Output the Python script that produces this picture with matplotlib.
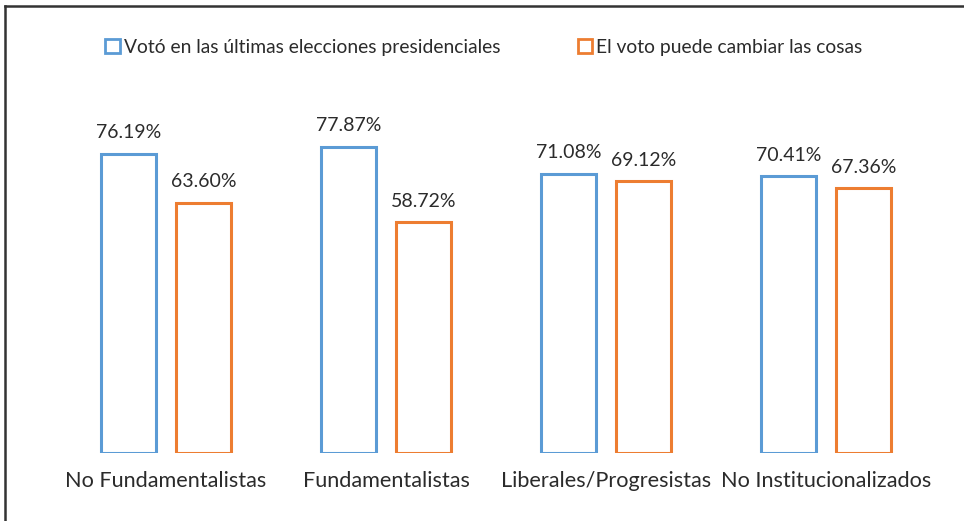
import matplotlib
matplotlib.use("Agg")
import matplotlib.pyplot as plt
from matplotlib.lines import Line2D
from matplotlib.patches import Patch
import numpy as np

categories = ["No Fundamentalistas", "Fundamentalistas", "Liberales/Progresistas", "No Institucionalizados"]
series_names = ["Votó en las últimas elecciones presidenciales", "El voto puede cambiar las cosas"]
voto = [76.19, 77.87, 71.08, 70.41]
cambiar = [63.60, 58.72, 69.12, 67.36]
colors = ["#5B9BD5", "#ED7D31"]

plt.rcParams['font.family'] = ['Lato', 'DejaVu Sans']

W, H = 964, 521
fig = plt.figure(figsize=(W/100, H/100), dpi=100)

left = 56 / W
width = 880 / W
bottom = (H - 453) / H
height = 393 / H
ax = fig.add_axes([left, bottom, width, height])

x = np.arange(len(categories))
off = 37.5 / 220
bw = 55 / 220
for vals, c, o in [(voto, colors[0], -off), (cambiar, colors[1], off)]:
    ax.bar(x + o, vals, bw, facecolor='white', edgecolor=c, linewidth=2.2)
    for xi, v in zip(x + o, vals):
        ax.text(xi, v + 3.2, f"{v:.2f}%", ha='center', va='bottom', fontsize=14.0, color='#2b2b2b')

ax.set_xlim(-0.5, 3.5)
ax.set_ylim(0, 100)
for s in ax.spines.values():
    s.set_visible(False)
ax.set_yticks([])
ax.set_xticks(x)
ax.set_xticklabels(categories, fontsize=15.6, color='#2b2b2b')
ax.tick_params(axis='x', length=0, pad=13)

handles = [Patch(facecolor='white', edgecolor=c, linewidth=2) for c in colors]
leg = fig.legend(handles, series_names, loc='center left', bbox_to_anchor=(88/W, 1 - 47/H),
                 ncol=2, frameon=False, fontsize=13.9, handlelength=0.75, handleheight=0.75,
                 handletextpad=0.2, columnspacing=4.03, labelcolor='#2b2b2b')

fig.add_artist(Line2D([5/W, 1], [1 - 6/H, 1 - 6/H], color='#333333', linewidth=1.8, transform=fig.transFigure))
fig.add_artist(Line2D([5/W, 5/W], [0, 1 - 6/H], color='#333333', linewidth=1.8, transform=fig.transFigure))

fig.savefig("out.png", dpi=100)
